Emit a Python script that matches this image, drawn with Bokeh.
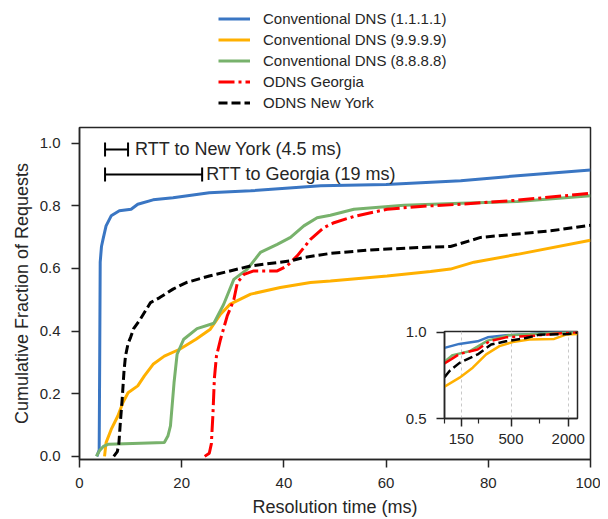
from bokeh.plotting import figure
from bokeh.models import (Legend, LegendItem, Whisker, TeeHead, ColumnDataSource,
                          Label, FixedTicker, NumeralTickFormatter)
from bokeh.layouts import column
from bokeh.embed import file_html
from bokeh.resources import INLINE

FONT = "Liberation Sans"
TXT = "#262626"

# ---------------- data (main panel, ms vs CDF) ----------------
blue_x = [3.4, 3.85, 3.95, 4.05, 4.3, 4.6, 5.2, 6.2, 7.8, 10.1, 11.4, 14.4, 18.3, 25.4, 33.5, 47.2, 60, 74.6, 85.7, 100]
blue_y = [0.0, 0.02, 0.3, 0.62, 0.67, 0.693, 0.736, 0.768, 0.784, 0.789, 0.805, 0.819, 0.826, 0.842, 0.848, 0.864, 0.868, 0.880, 0.896, 0.914]

orange_x = [4.9, 5.2, 6.2, 7.5, 8.5, 9.5, 11.4, 12.7, 14.4, 16.6, 19.6, 22.8, 25.6, 27.6, 29.5, 33.5, 39.3, 45.2, 49.1, 60.2, 68.7, 72.6, 77.2, 85.7, 100]
orange_y = [0.0, 0.044, 0.086, 0.129, 0.172, 0.203, 0.225, 0.257, 0.294, 0.320, 0.342, 0.374, 0.406, 0.454, 0.486, 0.518, 0.539, 0.555, 0.560, 0.576, 0.590, 0.598, 0.620, 0.645, 0.690]

green_x = [3.3, 4.0, 4.76, 5.7, 16.6, 17.3, 17.8, 18.5, 19.1, 20.4, 23.0, 26.3, 28.2, 30.2, 32.8, 35.4, 38.7, 41.3, 43.9, 46.5, 49.1, 53.7, 63.5, 74.6, 85.7, 100]
green_y = [0.0, 0.02, 0.033, 0.039, 0.044, 0.065, 0.097, 0.235, 0.326, 0.374, 0.408, 0.425, 0.485, 0.565, 0.597, 0.651, 0.677, 0.699, 0.736, 0.762, 0.770, 0.789, 0.802, 0.808, 0.814, 0.832]

red_x = [24.5, 25.4, 25.8, 26.1, 26.4, 26.8, 27.6, 28.9, 30.2, 30.9, 32.2, 34.1, 38.7, 40.6, 42.6, 45.2, 47.8, 49.8, 53.7, 60.2, 66.7, 74.6, 85.7, 100]
red_y = [0.0, 0.01, 0.04, 0.13, 0.25, 0.32, 0.374, 0.448, 0.50, 0.555, 0.581, 0.592, 0.592, 0.608, 0.640, 0.693, 0.730, 0.746, 0.766, 0.789, 0.798, 0.805, 0.818, 0.840]

black_x = [6.7, 7.4, 7.7, 8.0, 8.35, 8.7, 9.0, 9.5, 10.0, 10.6, 11.9, 13.9, 15.7, 18.3, 20.9, 25.4, 33.5, 41.3, 43.9, 49.1, 56.9, 66.7, 72.6, 78.5, 92.2, 100]
black_y = [0.0, 0.015, 0.04, 0.11, 0.182, 0.27, 0.32, 0.36, 0.38, 0.408, 0.438, 0.491, 0.507, 0.534, 0.555, 0.576, 0.608, 0.624, 0.635, 0.648, 0.659, 0.667, 0.670, 0.699, 0.720, 0.738]

# ---------------- data (inset, log ms) ----------------
blue_in_x = [100, 143, 223, 284, 443, 800, 1360, 2500]
blue_in_y = [0.91, 0.933, 0.948, 0.971, 0.983, 0.99, 1.0, 1.0]
green_in_x = [100, 122, 183, 284, 470, 990, 2000, 2500]
green_in_y = [0.83, 0.868, 0.89, 0.952, 0.983, 0.992, 1.0, 1.0]
red_in_x = [100, 117, 144, 223, 297, 443, 916, 1360, 2000, 2500]
red_in_y = [0.82, 0.843, 0.875, 0.90, 0.948, 0.971, 0.981, 0.99, 0.997, 1.0]
black_in_x = [100, 113, 144, 223, 309, 443, 720, 990, 2000, 2500]
black_in_y = [0.74, 0.776, 0.823, 0.872, 0.929, 0.948, 0.967, 0.986, 0.99, 1.0]
orange_in_x = [100, 144, 198, 274, 378, 521, 780, 1420, 1890, 2500]
orange_in_y = [0.685, 0.737, 0.795, 0.872, 0.92, 0.944, 0.958, 0.962, 0.987, 0.99]

labels = ["Conventional DNS (1.1.1.1)", "Conventional DNS (9.9.9.9)",
          "Conventional DNS (8.8.8.8)", "ODNS Georgia", "ODNS New York"]
colors = ["#3a76c3", "#ffb000", "#78b26c", "#ff0000", "#000000"]
dashes = ["solid", "solid", "solid", "16 4 3 4", "9 4"]

x_ticks = [0, 20, 40, 60, 80, 100]
y_ticks = [0.0, 0.2, 0.4, 0.6, 0.8, 1.0]
inset_ticks = [150, 500, 2000]
inset_minor_ticks = [100, 225, 1000]
inset_y_ticks = [0.5, 1.0]

rtt_labels = ["RTT to New York (4.5 ms)", "RTT to Georgia (19 ms)"]
rtt_start = [5.0, 5.0]
rtt_end = [9.5, 24.0]
rtt_y = [0.98, 0.90]

series = [(blue_x, blue_y), (orange_x, orange_y), (green_x, green_y), (red_x, red_y), (black_x, black_y)]

# ---------------- legend strip (top) ----------------
# The legend strip holds the same series (its view range lies outside the data, so only
# the legend is visible) so that the legend sits above the axes as in the reference.
leg = figure(width=600, height=125, x_range=(-20, -10), y_range=(-20, -10),
             output_backend="svg", toolbar_location=None, title=None,
             x_axis_location=None, y_axis_location=None,
             min_border_left=79, min_border_right=10, min_border_top=0, min_border_bottom=0)
leg.outline_line_color = None
leg.xgrid.visible = False
leg.ygrid.visible = False
leg_renderers = [leg.line(xs, ys, line_color=c, line_width=3, line_dash=d)
                 for (xs, ys), c, d in zip(series, colors, dashes)]
legend = Legend(items=[LegendItem(label=l, renderers=[r]) for l, r in zip(labels, leg_renderers)],
                location=(139, 12), orientation="vertical",
                label_text_font=FONT, label_text_font_size="15px", label_text_color=TXT,
                glyph_width=32, glyph_height=21, label_height=21, label_standoff=13,
                spacing=0, padding=0, margin=0,
                border_line_alpha=0, background_fill_alpha=0)
leg.add_layout(legend)

# ---------------- main figure ----------------
p = figure(width=600, height=394, x_range=(0, 100), y_range=(-0.01, 1.05),
           output_backend="svg", toolbar_location=None, title=None,
           min_border_left=79, min_border_right=10, min_border_top=2, min_border_bottom=40)
p.background_fill_color = "white"
p.border_fill_color = "white"
p.outline_line_color = TXT
p.outline_line_width = 1.5
p.xgrid.visible = False
p.ygrid.visible = False

for (xs, ys), c, d in zip(series, colors, dashes):
    p.line(xs, ys, line_color=c, line_width=3, line_dash=d)

p.xaxis.ticker = FixedTicker(ticks=x_ticks)
p.yaxis.ticker = FixedTicker(ticks=y_ticks)
p.yaxis.formatter = NumeralTickFormatter(format="0.0")
p.xaxis.axis_label = "Resolution time (ms)"
p.yaxis.axis_label = "Cumulative Fraction of Requests"
for ax in (p.xaxis[0], p.yaxis[0]):
    ax.axis_line_color = TXT
    ax.axis_line_width = 1.5
    ax.major_tick_line_color = TXT
    ax.major_tick_line_width = 1.5
    ax.major_tick_out = 8
    ax.major_tick_in = 0
    ax.minor_tick_line_color = None
    ax.major_label_text_font = FONT
    ax.major_label_text_font_size = "15px"
    ax.major_label_text_color = TXT
    ax.axis_label_text_font = FONT
    ax.axis_label_text_font_size = "18px"
    ax.axis_label_text_font_style = "normal"
    ax.axis_label_text_color = TXT
p.xaxis.major_label_standoff = 10
p.yaxis.major_label_standoff = 11
p.xaxis.axis_label_standoff = 6
p.yaxis.axis_label_standoff = 5

# RTT bars
src = ColumnDataSource(dict(base=rtt_y, lower=rtt_start, upper=rtt_end))
w = Whisker(source=src, base="base", lower="lower", upper="upper", dimension="width",
            line_color="black", line_width=2,
            lower_head=TeeHead(size=14, line_color="black", line_width=2),
            upper_head=TeeHead(size=14, line_color="black", line_width=2))
p.add_layout(w)
for lab, xe, yy, off in zip(rtt_labels, rtt_end, rtt_y, [7, 4]):
    p.add_layout(Label(x=xe, y=yy, text=lab, x_offset=off, text_baseline="middle",
                       text_font=FONT, text_font_size="18px", text_color=TXT))

# ---------------- inset figure ----------------
ins = figure(width=222, height=129, x_axis_type="log", x_range=(100, 2500), y_range=(0.5, 1.005),
             output_backend="svg", toolbar_location=None, title=None,
             min_border_left=79, min_border_right=10, min_border_top=12, min_border_bottom=30,
             styles={"position": "absolute", "left": "365px", "top": "319px"})
ins.background_fill_color = "white"
ins.border_fill_alpha = 0
ins.outline_line_color = TXT
ins.outline_line_width = 1.5
in_series = [(blue_in_x, blue_in_y), (orange_in_x, orange_in_y), (green_in_x, green_in_y),
             (red_in_x, red_in_y), (black_in_x, black_in_y)]
for (xs, ys), c, d in zip(in_series, colors, dashes):
    ins.line(xs, ys, line_color=c, line_width=2.5, line_dash=d)
ins.xaxis.ticker = FixedTicker(ticks=inset_ticks, minor_ticks=inset_minor_ticks)
ins.yaxis.ticker = FixedTicker(ticks=inset_y_ticks)
ins.yaxis.formatter = NumeralTickFormatter(format="0.0")
ins.xaxis.formatter = NumeralTickFormatter(format="0")
ins.xgrid.ticker = FixedTicker(ticks=inset_ticks)
ins.xgrid.grid_line_color = "#c8c8c8"
ins.xgrid.grid_line_dash = "3 3"
ins.ygrid.visible = False
for ax in (ins.xaxis[0], ins.yaxis[0]):
    ax.axis_line_color = TXT
    ax.axis_line_width = 1.5
    ax.major_tick_line_color = TXT
    ax.major_tick_line_width = 1.5
    ax.major_tick_out = 8
    ax.major_tick_in = 0
    ax.minor_tick_line_color = TXT
    ax.minor_tick_line_width = 1.2
    ax.minor_tick_out = 5
    ax.minor_tick_in = 0
    ax.major_label_text_font = FONT
    ax.major_label_text_font_size = "15px"
    ax.major_label_text_color = TXT
ins.xaxis.major_label_standoff = 7
ins.yaxis.major_label_standoff = 10
ins.yaxis.minor_tick_line_color = None

lay = column(leg, p, ins, styles={"position": "relative"})
open("out.html", "w").write(file_html(lay, INLINE))
